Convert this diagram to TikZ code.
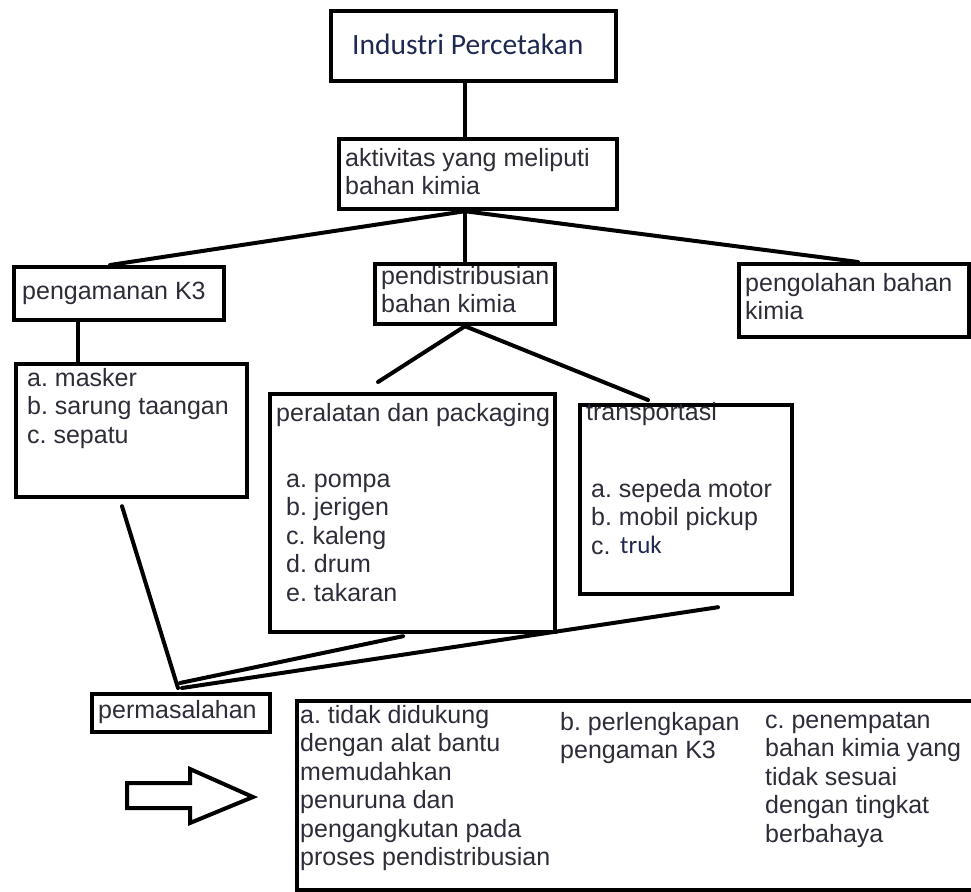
\documentclass[tikz,border=0pt]{standalone}
\usepackage{fontspec}
\setmainfont{Liberation Sans}
\newfontfamily\calib{Carlito}
\frenchspacing
\definecolor{txtc}{RGB}{45,45,58}
\definecolor{titc}{RGB}{30,40,80}
\newcommand\ml[1]{\begin{tabular}[t]{@{}l@{}}#1\end{tabular}}
\tikzset{
  box/.style={draw, line width=4.2pt, rectangle, anchor=north west, inner sep=0pt},
  txt/.style={anchor=base west, inner sep=0pt, text=txtc, font=\fontsize{25}{28.5}\selectfont},
  ln/.style={line width=4pt, line cap=round},
}
\begin{document}
\begin{tikzpicture}[x=1pt,y=-1pt]
\useasboundingbox (0,0) rectangle (971,891);
\clip (0,0) rectangle (971,891);
% boxes
\node[box, minimum width=285pt, minimum height=70pt] (top) at (329,9) {};
\node[box, minimum width=278pt, minimum height=70pt] (aktiv) at (337,137) {};
\node[box, minimum width=210pt, minimum height=53pt] (k3) at (12,265) {};
\node[box, minimum width=180pt, minimum height=60pt] (pend) at (373,262) {};
\node[box, minimum width=230pt, minimum height=73pt] (peng) at (737,262) {};
\node[box, minimum width=231pt, minimum height=133pt] (mask) at (14,362) {};
\node[box, minimum width=285pt, minimum height=238pt] (peral) at (268,392) {};
\node[box, minimum width=212pt, minimum height=189pt] (trans) at (578,403) {};
\node[box, minimum width=178pt, minimum height=38pt] (perm) at (90,692) {};
\node[box, minimum width=690pt, minimum height=189pt] (big) at (295,699) {};
% texts
\node[anchor=base west, inner sep=0pt, text=titc, font=\calib\fontsize{29.5}{34}\selectfont] (ttop) at (352,55) {Industri Percetakan};
\node[txt] (taktiv) at (345,166) {\ml{aktivitas yang meliputi\\bahan kimia}};
\node[txt] (tk3) at (22,299) {pengamanan K3};
\node[txt] (tpend) at (381,284) {\ml{pendistribusian\\bahan kimia}};
\node[txt] (tpeng) at (745,291) {\ml{pengolahan bahan\\kimia}};
\node[txt] (tmask) at (27,386) {\ml{a. masker\\b. sarung taangan\\c. sepatu}};
\node[txt] (tperal) at (276,421) {peralatan dan packaging};
\node[txt] (tperali) at (286,487) {\ml{a. pompa\\b. jerigen\\c. kaleng\\d. drum\\e. takaran}};
\node[txt] (ttrans) at (586,420) {transportasi};
\node[txt] (ttransi) at (591,497) {\ml{a. sepeda motor\\b. mobil pickup\\c.}};
\node[anchor=base west, inner sep=0pt, text=titc, font=\calib\fontsize{25}{30}\selectfont] (ttruk) at (620,553) {truk};
\node[txt] (tperm) at (98,718) {permasalahan};
\node[txt] (tbiga) at (300,723) {\ml{a. tidak didukung\\dengan alat bantu\\memudahkan\\penuruna dan\\pengangkutan pada\\proses pendistribusian}};
\node[txt] (tbigb) at (560,730) {\ml{b. perlengkapan\\pengaman K3}};
\node[txt] (tbigc) at (765,728) {\ml{c. penempatan\\bahan kimia yang\\tidak sesuai\\dengan tingkat\\berbahaya}};
% connectors
\draw[ln] ([xshift=136pt]top.south west) -- ([xshift=128pt]aktiv.north west);
\draw[ln] ([xshift=128pt]aktiv.south west) -- ([xshift=98pt]k3.north west);
\draw[ln] ([xshift=128pt]aktiv.south west) -- ([xshift=92pt]pend.north west);
\draw[ln] ([xshift=128pt]aktiv.south west) -- ([xshift=121pt]peng.north west);
\draw[ln] ([xshift=66pt]k3.south west) -- ([xshift=64pt]mask.north west);
\draw[ln] ([xshift=92pt]pend.south west) -- ([xshift=110pt,yshift=10pt]peral.north west);
\draw[ln] ([xshift=92pt]pend.south west) -- ([xshift=70pt,yshift=3pt]trans.north west);
\draw[ln] ([xshift=108pt,yshift=-7pt]mask.south west) -- ([xshift=88pt,yshift=4pt]perm.north west);
\draw[ln] ([xshift=135pt,yshift=-2pt]peral.south west) -- ([xshift=90pt,yshift=9pt]perm.north west);
\draw[ln] ([xshift=140pt,yshift=-11pt]trans.south west) -- ([xshift=92pt,yshift=4pt]perm.north west);
% block arrow
\draw[line width=4pt, line join=miter] (127,783) -- (190,783) -- (190,769) -- (253,797) -- (190,823) -- (190,808) -- (127,808) -- cycle;
\end{tikzpicture}
\end{document}
